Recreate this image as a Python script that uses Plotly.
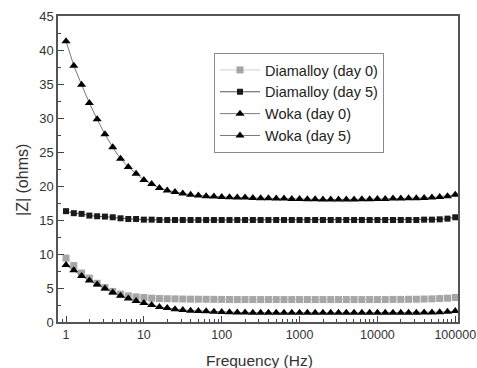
import plotly.graph_objects as go

freq = [1, 1.259, 1.585, 1.995, 2.512, 3.162, 3.981, 5.012, 6.310, 7.943,
        10, 12.59, 15.85, 19.95, 25.12, 31.62, 39.81, 50.12, 63.10, 79.43,
        100, 125.9, 158.5, 199.5, 251.2, 316.2, 398.1, 501.2, 631.0, 794.3,
        1000, 1259, 1585, 1995, 2512, 3162, 3981, 5012, 6310, 7943,
        10000, 12589, 15849, 19953, 25119, 31623, 39811, 50119, 63096, 79433,
        100000]

diamalloy_day0 = [9.4, 8.3, 7.2, 6.45, 5.7, 5.07, 4.5, 4.1, 3.85, 3.7,
                  3.6, 3.5, 3.45, 3.42, 3.4, 3.38, 3.36, 3.35, 3.34, 3.33,
                  3.32, 3.31, 3.3, 3.3, 3.3, 3.3, 3.3, 3.3, 3.3, 3.3,
                  3.3, 3.3, 3.3, 3.3, 3.3, 3.3, 3.3, 3.3, 3.3, 3.3,
                  3.3, 3.3, 3.32, 3.32, 3.34, 3.35, 3.38, 3.4, 3.45, 3.5,
                  3.6]

diamalloy_day5 = [16.3, 16.0, 15.9, 15.65, 15.55, 15.5, 15.4, 15.25, 15.15, 15.15,
                  15.05, 15.05, 15.0, 15.0, 15.0, 15.0, 15.0, 15.0, 15.0, 15.0,
                  15.0, 15.0, 15.0, 15.0, 15.0, 15.0, 15.0, 15.0, 15.0, 15.0,
                  15.0, 15.0, 15.0, 15.0, 15.0, 15.0, 15.0, 15.0, 15.0, 15.0,
                  15.0, 15.0, 15.0, 15.0, 15.0, 15.0, 15.05, 15.05, 15.1, 15.2,
                  15.4]

woka_day0 = [8.4, 7.6, 6.75, 6.1, 5.5, 4.92, 4.35, 3.85, 3.45, 3.1,
             2.8, 2.5, 2.22, 2.05, 1.88, 1.77, 1.67, 1.62, 1.57, 1.5,
             1.48, 1.43, 1.4, 1.38, 1.37, 1.36, 1.35, 1.35, 1.35, 1.35,
             1.35, 1.35, 1.35, 1.35, 1.35, 1.35, 1.35, 1.35, 1.35, 1.35,
             1.35, 1.35, 1.35, 1.35, 1.36, 1.37, 1.38, 1.4, 1.45, 1.5,
             1.6]

woka_day5 = [41.3, 37.7, 34.9, 32.2, 29.8, 27.6, 25.7, 24.0, 22.8, 21.8,
             20.9, 20.3, 19.7, 19.35, 19.1, 18.9, 18.7, 18.6, 18.5, 18.45,
             18.4, 18.35, 18.3, 18.3, 18.25, 18.2, 18.2, 18.15, 18.15, 18.1,
             18.1, 18.05, 18.05, 18.0, 18.0, 18.0, 18.0, 18.0, 18.05, 18.05,
             18.1, 18.1, 18.15, 18.15, 18.2, 18.2, 18.25, 18.3, 18.4, 18.5,
             18.7]

series_names = ["Diamalloy (day 0)", "Diamalloy (day 5)", "Woka (day 0)", "Woka (day 5)"]

FONT = "Liberation Sans, Arial, sans-serif"

fig = go.Figure()
fig.add_trace(go.Scatter(x=freq, y=diamalloy_day0, name=series_names[0], mode="lines+markers",
                         line=dict(color="#cfcfcf", width=1),
                         marker=dict(symbol="square", size=7, color="#a6a6a6")))
fig.add_trace(go.Scatter(x=freq, y=diamalloy_day5, name=series_names[1], mode="lines+markers",
                         line=dict(color="#555555", width=1),
                         marker=dict(symbol="square", size=6, color="#1a1a1a")))
fig.add_trace(go.Scatter(x=freq, y=woka_day0, name=series_names[2], mode="lines+markers",
                         line=dict(color="#777777", width=1),
                         marker=dict(symbol="triangle-up", size=8, color="#000000")))
fig.add_trace(go.Scatter(x=freq, y=woka_day5, name=series_names[3], mode="lines+markers",
                         line=dict(color="#777777", width=1),
                         marker=dict(symbol="triangle-up", size=8, color="#000000")))

ph = 368 - 16 - 46
pw = 477 - 58 - 19

fig.update_layout(
    width=477, height=368,
    margin=dict(l=58, r=19, t=16, b=46),
    plot_bgcolor="white", paper_bgcolor="white",
    font=dict(family=FONT, color="#333333"),
    legend=dict(x=(214 - 58) / pw, y=(322 - 53) / ph, xanchor="left", yanchor="top",
                bordercolor="#8a8a8a", borderwidth=1, bgcolor="white",
                font=dict(size=14.5, family=FONT, color="#222222"),
                itemwidth=40, tracegroupgap=0),
    xaxis=dict(type="log", range=[-0.103, 5.035], automargin=False,
               tickvals=[1, 10, 100, 1000, 10000, 100000],
               ticktext=["1", "10", "100", "1000", "10000", "100000"],
               ticks="inside", ticklen=6, tickcolor="#444444",
               showline=True, linecolor="#555555", linewidth=1.5, mirror=True,
               showgrid=False, zeroline=False, ticklabelstandoff=0,
               tickfont=dict(size=12.5, color="#333333"),
               minor=dict(ticks="inside", ticklen=3, tickcolor="#444444", dtick="D1", showgrid=False)),
    yaxis=dict(range=[0, 45], dtick=5, automargin=False,
               ticks="inside", ticklen=6, tickcolor="#444444",
               showline=True, linecolor="#555555", linewidth=1.5, mirror=True,
               showgrid=False, zeroline=False,
               tickfont=dict(size=13, color="#333333"),
               minor=dict(ticks="inside", ticklen=3, tickcolor="#444444", dtick=2.5, showgrid=False)),
    annotations=[
        dict(text="|Z| (ohms)", textangle=-90,
             x=(22 - 58) / pw, y=(322 - 180) / ph, xref="paper", yref="paper",
             xanchor="center", yanchor="middle",
             showarrow=False, font=dict(size=16, color="#333333")),
        dict(text="Frequency (Hz)",
             x=(259 - 58) / pw, y=(322 - 360) / ph, xref="paper", yref="paper",
             xanchor="center", yanchor="middle",
             showarrow=False, font=dict(size=15.5, color="#333333")),
    ],
)

fig.write_html("out.html")
